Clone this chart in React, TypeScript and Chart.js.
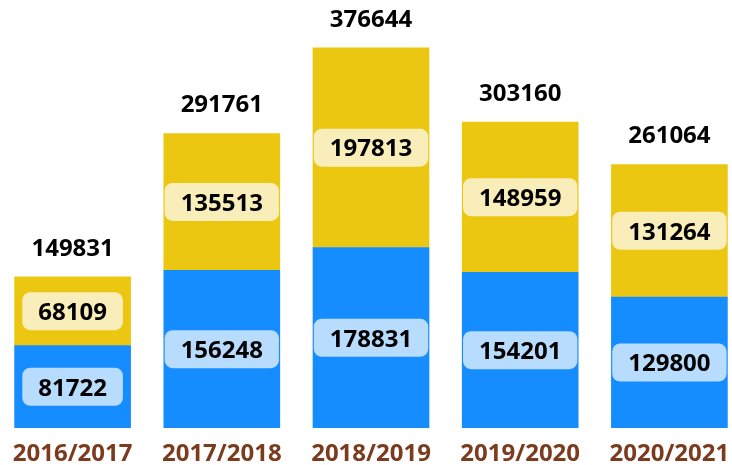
import React, { useEffect, useRef } from "react";
import { Chart, registerables } from "chart.js";

Chart.register(...registerables);

const categories = ["2016/2017", "2017/2018", "2018/2019", "2019/2020", "2020/2021"];
const bottomSeries = [81722, 156248, 178831, 154201, 129800];
const topSeries = [68109, 135513, 197813, 148959, 131264];
const totals = [149831, 291761, 376644, 303160, 261064];

const BLUE = "#158DFE";
const YELLOW = "#ECC712";
const LIGHT_BLUE = "#B8DCFE";
const LIGHT_YELLOW = "#F9EDB9";
const BROWN = "#7A3B1E";
const FONT = "'Open Sans', sans-serif";
const FONT_SIZE = 24;
const WEIGHT = "bold";

const labelPlugin = {
  id: "stackLabels",
  afterDatasetsDraw(chart: any) {
    const ctx = chart.ctx as CanvasRenderingContext2D;
    ctx.save();
    ctx.font = `${WEIGHT} ${FONT_SIZE}px ${FONT}`;
    ctx.textAlign = "center";
    ctx.textBaseline = "middle";
    const boxColors = [LIGHT_BLUE, LIGHT_YELLOW];
    chart.data.datasets.forEach((ds: any, di: number) => {
      const meta = chart.getDatasetMeta(di);
      meta.data.forEach((bar: any, i: number) => {
        const cy = (bar.y + bar.base) / 2;
        const text = String(ds.data[i]);
        const tw = ctx.measureText(text).width;
        const w = tw + 32;
        const h = 38;
        ctx.fillStyle = boxColors[di];
        ctx.beginPath();
        (ctx as any).roundRect(bar.x - w / 2, cy - h / 2, w, h, 8);
        ctx.fill();
        ctx.fillStyle = "#000";
        ctx.fillText(text, bar.x, cy + 2);
      });
    });
    const topMeta = chart.getDatasetMeta(chart.data.datasets.length - 1);
    topMeta.data.forEach((bar: any, i: number) => {
      ctx.fillStyle = "#000";
      ctx.fillText(String(totals[i]), bar.x, bar.y - 28);
    });
    ctx.restore();
  },
};

export default function App() {
  const ref = useRef<HTMLCanvasElement | null>(null);
  useEffect(() => {
    document.body.style.margin = "0";
    document.body.style.overflow = "hidden";
    const chart = new Chart(ref.current as HTMLCanvasElement, {
      type: "bar",
      data: {
        labels: categories,
        datasets: [
          { label: "bottom", data: bottomSeries, backgroundColor: BLUE, barThickness: 116 },
          { label: "top", data: topSeries, backgroundColor: YELLOW, barThickness: 116 },
        ],
      },
      options: {
        responsive: false,
        animation: false,
        layout: { padding: 0 },
        plugins: { legend: { display: false }, tooltip: { enabled: false } },
        scales: {
          x: {
            stacked: true,
            grid: { display: false },
            border: { display: false },
            ticks: {
              color: BROWN,
              font: { family: FONT, size: FONT_SIZE, weight: WEIGHT },
              padding: 4,
              maxRotation: 0,
              autoSkip: false,
            },
            afterFit: (scale: any) => {
              scale.height = 37;
            },
          },
          y: { stacked: true, display: false, min: 0, max: 424000 },
        },
      },
      plugins: [labelPlugin],
    });
    return () => chart.destroy();
  }, []);
  return (
    <div style={{ position: "fixed", left: -2, top: 0, width: 746, height: 465 }}>
      <canvas ref={ref} width={746} height={465} />
    </div>
  );
}
